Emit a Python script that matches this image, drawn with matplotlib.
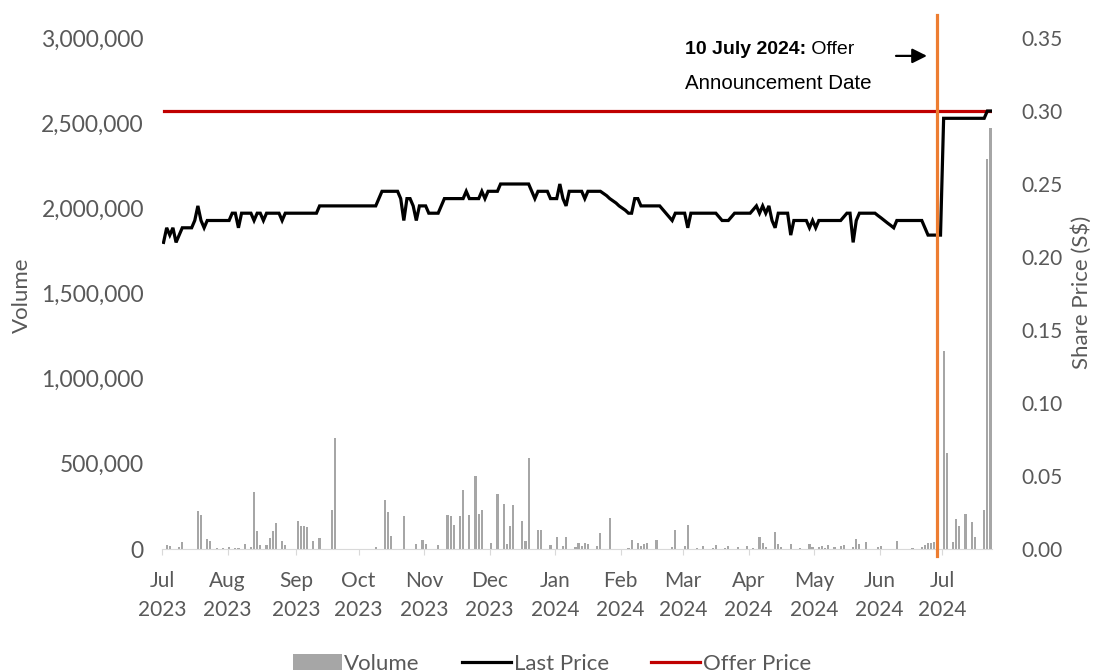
import matplotlib
matplotlib.use("Agg")
import matplotlib.pyplot as plt
from matplotlib.lines import Line2D
from matplotlib.patches import Patch
from matplotlib.ticker import FuncFormatter
import numpy as np

# ── Data (one value per trading day, grouped by month) ──────────────────────
months = ["Jul\n2023", "Aug\n2023", "Sep\n2023", "Oct\n2023", "Nov\n2023", "Dec\n2023",
          "Jan\n2024", "Feb\n2024", "Mar\n2024", "Apr\n2024", "May\n2024", "Jun\n2024",
          "Jul\n2024"]

price_by_month = [
    # Jul 2023
    [0.21, 0.22, 0.215, 0.22, 0.21, 0.215, 0.22, 0.22, 0.22, 0.22, 0.225, 0.235, 0.225,
     0.22, 0.225, 0.225, 0.225, 0.225, 0.225, 0.225, 0.225],
    # Aug 2023
    [0.225, 0.23, 0.23, 0.22, 0.23, 0.23, 0.23, 0.23, 0.225, 0.23, 0.23, 0.225, 0.23,
     0.23, 0.23, 0.23, 0.23, 0.225, 0.23, 0.23, 0.23, 0.23],
    # Sep 2023
    [0.23, 0.23, 0.23, 0.23, 0.23, 0.23, 0.23, 0.235, 0.235, 0.235, 0.235, 0.235, 0.235,
     0.235, 0.235, 0.235, 0.235, 0.235, 0.235, 0.235],
    # Oct 2023
    [0.235, 0.235, 0.235, 0.235, 0.235, 0.235, 0.24, 0.245, 0.245, 0.245, 0.245, 0.245,
     0.245, 0.24, 0.225, 0.24, 0.24, 0.235, 0.225, 0.235, 0.235],
    # Nov 2023
    [0.235, 0.23, 0.23, 0.23, 0.23, 0.235, 0.24, 0.24, 0.24, 0.24, 0.24, 0.24, 0.24,
     0.245, 0.24, 0.24, 0.24, 0.24, 0.245, 0.24, 0.245],
    # Dec 2023
    [0.245, 0.245, 0.245, 0.25, 0.25, 0.25, 0.25, 0.25, 0.25, 0.25, 0.25, 0.25, 0.25,
     0.245, 0.24, 0.245, 0.245, 0.245, 0.245, 0.24, 0.24],
    # Jan 2024
    [0.24, 0.25, 0.24, 0.235, 0.245, 0.245, 0.245, 0.245, 0.245, 0.24, 0.245, 0.245,
     0.245, 0.245, 0.245, 0.2435, 0.242, 0.24, 0.2385, 0.237, 0.235],
    # Feb 2024
    [0.2335, 0.232, 0.23, 0.23, 0.24, 0.24, 0.235, 0.235, 0.235, 0.235, 0.235, 0.235,
     0.235, 0.2325, 0.23, 0.2275, 0.225, 0.23, 0.23, 0.23],
    # Mar 2024
    [0.23, 0.22, 0.23, 0.23, 0.23, 0.23, 0.23, 0.23, 0.23, 0.23, 0.23, 0.2275, 0.225,
     0.225, 0.225, 0.2275, 0.23, 0.23, 0.23, 0.23, 0.23],
    # Apr 2024
    [0.23, 0.2325, 0.235, 0.23, 0.235, 0.23, 0.235, 0.225, 0.22, 0.23, 0.23, 0.23, 0.23,
     0.215, 0.225, 0.225, 0.225, 0.225, 0.225, 0.22, 0.225],
    # May 2024
    [0.22, 0.225, 0.225, 0.225, 0.225, 0.225, 0.225, 0.225, 0.225, 0.2275, 0.23, 0.23,
     0.21, 0.225, 0.23, 0.23, 0.23, 0.23, 0.23, 0.23, 0.2283],
    # Jun 2024
    [0.2267, 0.225, 0.2233, 0.2217, 0.22, 0.225, 0.225, 0.225, 0.225, 0.225, 0.225,
     0.225, 0.225, 0.225, 0.22, 0.215, 0.215, 0.215, 0.215, 0.215],
    # Jul 2024
    [0.295, 0.295, 0.295, 0.295, 0.295, 0.295, 0.295, 0.295, 0.295, 0.295, 0.295, 0.295,
     0.295, 0.295, 0.30, 0.30],
]

volume_k_by_month = [
    [0, 25, 15, 0, 0, 10, 39, 0, 0, 0, 0, 221, 201, 0, 59, 45, 0, 5, 0, 5, 0],
    [12, 0, 5, 8, 0, 31, 0, 10, 333, 104, 25, 0, 25, 65, 104, 153, 0, 45, 25, 0, 0, 0],
    [162, 137, 137, 130, 0, 45, 0, 63, 0, 0, 0, 231, 652, 0, 0, 0, 0, 0, 0, 0],
    [0, 0, 0, 0, 0, 12, 0, 0, 290, 215, 74, 0, 0, 0, 196, 0, 0, 0, 31, 0, 55],
    [30, 0, 0, 0, 25, 0, 0, 201, 192, 143, 0, 192, 348, 0, 201, 0, 427, 205, 227, 0, 0],
    [35, 0, 325, 0, 266, 30, 137, 260, 0, 0, 162, 45, 534, 0, 0, 114, 114, 0, 0, 25, 0],
    [70, 0, 15, 68, 0, 0, 10, 35, 20, 35, 29, 0, 0, 15, 94, 0, 0, 182, 0, 0, 0],
    [0, 0, 5, 55, 0, 35, 15, 29, 35, 0, 0, 55, 0, 0, 0, 0, 10, 113, 0, 0],
    [20, 141, 0, 0, 5, 0, 16, 0, 0, 8, 23, 0, 0, 8, 16, 0, 0, 14, 0, 0, 20],
    [0, 5, 0, 68, 35, 12, 0, 0, 98, 29, 10, 0, 0, 29, 0, 0, 8, 0, 0, 29, 10],
    [0, 10, 20, 8, 23, 0, 10, 0, 20, 23, 0, 0, 10, 59, 29, 0, 43, 0, 0, 0, 10],
    [16, 0, 0, 0, 0, 45, 0, 0, 0, 0, 5, 0, 0, 10, 23, 35, 35, 40, 30, 0],
    [1160, 565, 0, 43, 176, 137, 0, 205, 0, 156, 68, 0, 0, 231, 2290, 2470],
]

offer_price = 0.30
announce_pos = 247.8  # where the announcement marker sits on the trading-day axis

# ── Derived ─────────────────────────────────────────────────────────────────
price = np.concatenate(price_by_month)
volume = np.concatenate(volume_k_by_month) * 1000
x = np.arange(len(price))
month_len = [len(m) for m in price_by_month]
month_start = np.concatenate([[0], np.cumsum(month_len)[:-1]]) - 0.5

GREY_TXT = "#595959"
plt.rcParams["font.family"] = ["Lato", "DejaVu Sans"]

fig = plt.figure(figsize=(10.97, 6.72), dpi=100)
ax = fig.add_axes([162 / 1097, 123 / 672, 830 / 1097, 511 / 672])
ax2 = ax.twinx()

ax.bar(x, volume, width=0.7, color="#a6a6a6", zorder=2)
ax.set_xlim(-0.5, len(x) - 0.5)
ax.set_ylim(0, 3_000_000)
ax.set_yticks(np.arange(0, 3_000_001, 500_000))
ax.yaxis.set_major_formatter(FuncFormatter(lambda v, p: f"{v:,.0f}"))

ax2.plot(x, price, color="black", lw=2.3, zorder=4, solid_joinstyle="miter")
ax2.plot([x[0], x[-1]], [offer_price, offer_price], color="#c00000", lw=2.3, zorder=3)
ax2.axvline(announce_pos, ymin=-0.014, ymax=1.045, color="#ed7d31", lw=2.3,
            clip_on=False, zorder=5)
ax2.set_ylim(0, 0.35)
ax2.set_yticks(np.arange(0, 0.351, 0.05))
ax2.yaxis.set_major_formatter(FuncFormatter(lambda v, p: f"{v:.2f}"))

ax.set_xticks(month_start)
ax.set_xticklabels(months, linespacing=1.55)

for a in (ax, ax2):
    for s in a.spines.values():
        s.set_visible(False)
ax.spines["bottom"].set_visible(True)
ax.spines["bottom"].set_color("#d9d9d9")

ax.tick_params(axis="x", length=4, colors="#d9d9d9", labelcolor=GREY_TXT,
               labelsize=15, pad=12)
ax.tick_params(axis="y", length=0, labelsize=16.5, labelcolor=GREY_TXT, pad=13)
ax2.tick_params(axis="y", length=0, labelsize=15, labelcolor=GREY_TXT, pad=21)

ax.set_ylabel("Volume", fontsize=16, color=GREY_TXT)
ax.yaxis.set_label_coords(-0.157, 0.497)
ax2.set_ylabel("Share Price (S$)", fontsize=16, color=GREY_TXT)
ax2.yaxis.set_label_coords(1.096, 0.503)

# annotation
t1 = ax2.text(0.630, 0.978, "10 July 2024:", transform=ax2.transAxes, fontsize=14,
              fontweight="bold", family="Liberation Sans", va="center", ha="left")
ax2.annotate(" Offer", xy=(1, 0), xycoords=t1, va="bottom", ha="left", fontsize=14,
             family="Liberation Sans")
ax2.text(0.630, 0.91, "Announcement Date", transform=ax2.transAxes, fontsize=14.8,
         family="Liberation Sans", va="center", ha="left")
ax2.annotate("", xy=(0.925, 0.965), xytext=(0.881, 0.965), xycoords="axes fraction",
             textcoords="axes fraction",
             arrowprops=dict(arrowstyle="-|>", color="black", lw=1.6, mutation_scale=22))

handles = [Patch(facecolor="#a6a6a6"), Line2D([], [], color="black", lw=2.3),
           Line2D([], [], color="#c00000", lw=2.3)]
fig.legend(handles, ["Volume", "Last Price", "Offer Price"], loc="center",
           bbox_to_anchor=(0.503, 0.012), ncol=3, frameon=False, fontsize=16,
           handlelength=2.2, handletextpad=0.12, columnspacing=1.9, labelcolor=GREY_TXT)

fig.savefig("out.png", dpi=100)
